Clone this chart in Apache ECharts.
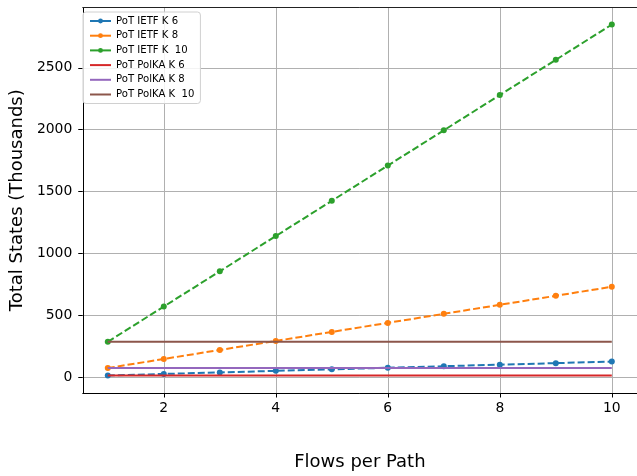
<!DOCTYPE html>
<html>
<head>
<meta charset="utf-8">
<script src="https://cdn.jsdelivr.net/npm/echarts@6/dist/echarts.min.js"></script>
<style>html,body{margin:0;padding:0;background:#fff;}#c{width:637px;height:476px;}</style>
</head>
<body>
<div id="c"></div>
<script>
const flows = [1, 2, 3, 4, 5, 6, 7, 8, 9, 10];
const ietfK6 = [12.5, 25, 37.5, 50, 62.5, 75, 87.5, 100, 112.5, 125];
const ietfK8 = [73, 146, 219, 292, 365, 438, 511, 584, 657, 730];
const ietfK10 = [285, 570, 855, 1140, 1425, 1710, 1995, 2280, 2565, 2850];
const polkaK6 = 12;
const polkaK8 = 73;
const polkaK10 = 285;
const xTicks = [2, 4, 6, 8, 10];
const yTicks = [0, 500, 1000, 1500, 2000, 2500];
const names = ['PoT IETF K 6', 'PoT IETF K 8', 'PoT IETF K  10', 'PoT PolKA K 6', 'PoT PolKA K 8', 'PoT PolKA K  10'];
const colors = ['#1f77b4', '#ff7f0e', '#2ca02c', '#d62728', '#9467bd', '#8c564b'];

const font = 'DejaVu Sans';
function pairs(xs, ys) { return xs.map((x, i) => [x, ys[i]]); }
function constLine(v) { return [[flows[0], v], [flows[flows.length - 1], v]]; }

const ietf = [ietfK6, ietfK8, ietfK10];
const polka = [polkaK6, polkaK8, polkaK10];
const series = [];
ietf.forEach((d, i) => {
  series.push({
    name: names[i], type: 'line', data: pairs(flows, d),
    symbol: 'circle', symbolSize: 6, color: colors[i],
    lineStyle: { width: 2, type: [7, 3], color: colors[i] },
    itemStyle: { color: colors[i] },
    animation: false, z: 2 + i
  });
});
polka.forEach((v, i) => {
  series.push({
    name: names[i + 3], type: 'line', data: constLine(v),
    symbol: 'none', color: colors[i + 3],
    lineStyle: { width: 2, type: 'solid', color: colors[i + 3] },
    animation: false, z: 5 + i
  });
});

const legendData = names.map((n, i) => i < 3 ? { name: n } : { name: n, itemStyle: { color: 'rgba(0,0,0,0)', borderWidth: 0, opacity: 0 } });

const chart = echarts.init(document.getElementById('c'), null, { renderer: 'canvas' });
chart.setOption({
  backgroundColor: '#fff',
  animation: false,
  grid: { left: 80.7, top: 7.5, width: 560, height: 386.5, containLabel: false, show: false },
  legend: {
    orient: 'vertical', left: 83, top: 12,
    data: legendData,
    itemWidth: 21, itemHeight: 6, itemGap: 2.7,
    textStyle: { fontFamily: font, fontSize: 10.1, lineHeight: 12, color: '#000' },
    backgroundColor: 'rgba(255,255,255,0.85)', borderColor: '#d0d0d0', borderWidth: 1, borderRadius: 3,
    padding: [3, 6, 3, 6],
    lineStyle: { type: 'solid' }
  },
  xAxis: [{
    type: 'value', min: 0.553, max: 10.45,
    name: 'Flows per Path', nameLocation: 'middle', nameGap: 60,
    nameTextStyle: { fontFamily: font, fontSize: 18, color: '#000' },
    axisLine: { show: true, onZero: false, lineStyle: { color: '#000', width: 1 } },
    axisTick: { show: true, inside: false, length: 4.5, customValues: xTicks, lineStyle: { color: '#000' } },
    axisLabel: { customValues: xTicks, fontFamily: font, fontSize: 13.9, color: '#000', margin: 8, formatter: v => String(v) },
    splitLine: { show: true, customValues: xTicks, lineStyle: { color: '#b0b0b0', width: 1 } }
  }, {
    type: 'value', position: 'top', min: 0.553, max: 10.45,
    axisLine: { show: true, onZero: false, lineStyle: { color: '#222', width: 1 } },
    axisTick: { show: false }, axisLabel: { show: false }, splitLine: { show: false }
  }],
  yAxis: {
    type: 'value', min: -129, max: 2988,
    name: 'Total States (Thousands)', nameLocation: 'middle', nameGap: 56,
    nameTextStyle: { fontFamily: font, fontSize: 18, color: '#000' },
    axisLine: { show: true, onZero: false, lineStyle: { color: '#000', width: 1 } },
    axisTick: { show: true, inside: false, length: 4.5, customValues: yTicks, lineStyle: { color: '#000' } },
    axisLabel: { customValues: yTicks, fontFamily: font, fontSize: 13.9, color: '#000', margin: 10.5, formatter: v => String(v) },
    splitLine: { show: true, customValues: yTicks, lineStyle: { color: '#b0b0b0', width: 1 } }
  },
  series: series
});
</script>
</body>
</html>
